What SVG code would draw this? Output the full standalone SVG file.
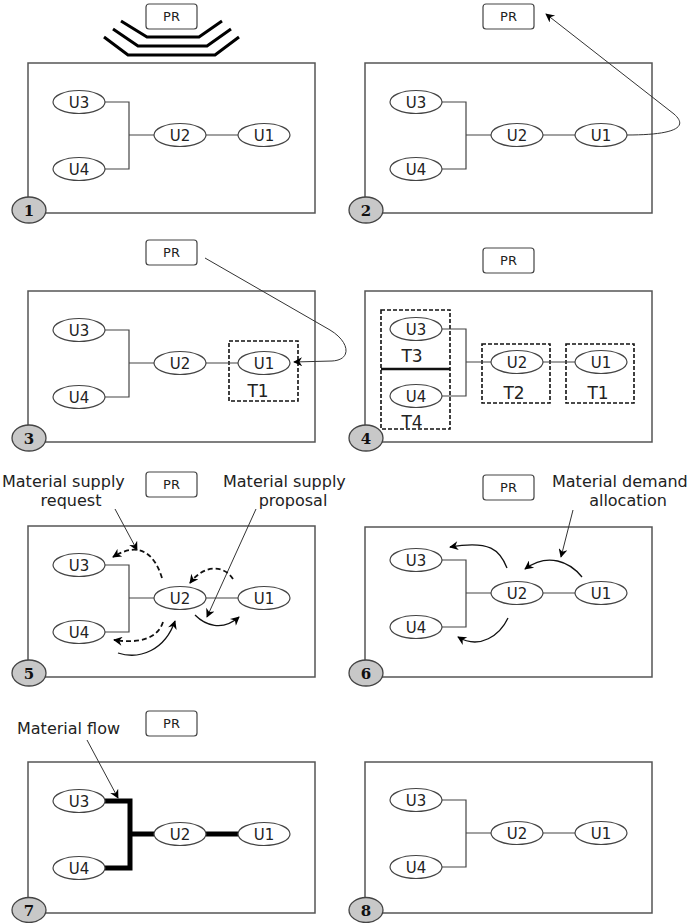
<svg xmlns="http://www.w3.org/2000/svg" width="689" height="923" viewBox="0 0 689 923">
<style>
.frame{fill:none;stroke:#555;stroke-width:1.5}
.pr{fill:#fff;stroke:#444;stroke-width:1.2}
.u{fill:#fff;stroke:#444;stroke-width:1.2}
.lbl{font-family:"DejaVu Sans",Verdana,sans-serif;font-size:15px;fill:#222;text-anchor:middle}
.prt{font-size:13px}
.tl{font-size:17px}
.note{font-family:"DejaVu Sans",Verdana,sans-serif;font-size:16px;fill:#222}
.num{fill:#c8c8c8;stroke:#444;stroke-width:1.3}
.numt{font-family:"DejaVu Serif",serif;font-weight:bold;font-size:15px;fill:#111;text-anchor:middle}
.tree{fill:none;stroke:#444;stroke-width:1.2}
.thick{fill:none;stroke:#000;stroke-width:5}
.tbox{fill:none;stroke:#111;stroke-width:1.6;stroke-dasharray:4 2}
.ptr{fill:none;stroke:#333;stroke-width:1;marker-end:url(#ah)}
.dash{fill:none;stroke:#111;stroke-width:1.8;stroke-dasharray:5 3;marker-end:url(#ah)}
.curve{fill:none;stroke:#111;stroke-width:1.3;marker-end:url(#ah)}
.chev{fill:none;stroke:#000;stroke-width:3}
</style>
<defs>
<marker id="ah" viewBox="0 0 10 10" refX="9" refY="5" markerWidth="11" markerHeight="9" markerUnits="userSpaceOnUse" orient="auto">
<path d="M0,0 L10,5 L0,10 L3,5 z" fill="#000"/>
</marker>
</defs>
<rect width="689" height="923" fill="#fff"/>

<g id="frames">
<rect class="frame" x="28" y="63" width="287" height="150"/>
<rect class="frame" x="365" y="63" width="287" height="150"/>
<rect class="frame" x="28" y="291" width="287" height="151"/>
<rect class="frame" x="365" y="291" width="287" height="151"/>
<rect class="frame" x="28" y="526" width="287" height="151"/>
<rect class="frame" x="365" y="527" width="287" height="150"/>
<rect class="frame" x="28" y="762" width="287" height="151"/>
<rect class="frame" x="365" y="762" width="287" height="151"/>
</g>

<g id="signal">
<path class="chev" d="M121,21 L147,37 L199,37 L222,21"/>
<path class="chev" d="M113,29 L138,46 L207,46 L231,29"/>
<path class="chev" d="M104,37 L128,55 L215,55 L239,37"/>
</g>

<g id="tboxes">
<rect class="tbox" x="229" y="341" width="69" height="60"/>
<text class="lbl tl" x="258" y="397">T1</text>
<rect class="tbox" x="381" y="310" width="69" height="119"/>
<path d="M381,369 H450" stroke="#111" stroke-width="2.5"/>
<text class="lbl tl" x="412" y="362">T3</text>
<text class="lbl tl" x="412" y="428">T4</text>
<rect class="tbox" x="482" y="344" width="68" height="59"/>
<text class="lbl tl" x="514" y="399">T2</text>
<rect class="tbox" x="566" y="344" width="68" height="59"/>
<text class="lbl tl" x="598" y="399">T1</text>
</g>

<g id="connectors">
<path class="tree" d="M105,102 H129 V169 H105 M129,135 H154 M206,135 H238"/>
<path class="tree" d="M442,102 H466 V169 H442 M466,135 H491 M543,135 H575"/>
<path class="tree" d="M105,330 H129 V397 H105 M129,363 H154 M206,363 H238"/>
<path class="tree" d="M442,329 H466 V396 H442 M466,362 H491 M543,362 H575"/>
<path class="tree" d="M105,565 H129 V632 H105 M129,598 H154 M206,598 H238"/>
<path class="tree" d="M442,560 H466 V627 H442 M466,593 H491 M543,593 H575"/>
<path class="thick" d="M105,801 H130 V868 H105 M130,834 H154 M206,834 H238"/>
<path class="tree" d="M442,800 H466 V867 H442 M466,833 H491 M543,833 H575"/>
<path class="ptr" d="M627,135 C672,135 690,128 674,114 L546,14"/>
<path class="ptr" d="M205,258 L330,330 C350,342 352,360 332,361 L294,362"/>
<path class="ptr" d="M115,509 L137,550"/>
<path class="ptr" d="M256,509 L207,617"/>
<path class="dash" d="M162,578 C155,555 140,540 113,557"/>
<path class="dash" d="M233,579 C225,566 205,563 190,583"/>
<path class="curve" d="M195,615 C205,625 222,632 239,617"/>
<path class="dash" d="M163,622 C158,638 140,644 114,640"/>
<path class="curve" d="M118,653 C140,660 165,650 175,621"/>
<path class="ptr" d="M573,510 L561,557"/>
<path class="curve" d="M582,577 C570,562 548,552 525,569"/>
<path class="curve" d="M507,568 C500,550 490,540 450,547"/>
<path class="curve" d="M508,618 C500,635 480,650 458,637"/>
<path class="ptr" d="M87,740 L118,798"/>
</g>

<g id="notes">
<text class="note" x="2" y="487">Material supply</text>
<text class="note" x="71" y="506" text-anchor="middle">request</text>
<text class="note" x="223" y="487">Material supply</text>
<text class="note" x="293" y="506" text-anchor="middle">proposal</text>
<text class="note" x="552" y="487">Material demand</text>
<text class="note" x="628" y="506" text-anchor="middle">allocation</text>
<text class="note" x="17" y="734">Material flow</text>
</g>

<g id="pr1"><rect class="pr" x="146" y="4" width="51" height="25" rx="3"/><text class="lbl prt" x="171.5" y="21">PR</text></g>
<g id="pr2"><rect class="pr" x="483" y="4" width="51" height="25" rx="3"/><text class="lbl prt" x="508.5" y="21">PR</text></g>
<g id="pr3"><rect class="pr" x="146" y="240" width="51" height="25" rx="3"/><text class="lbl prt" x="171.5" y="257">PR</text></g>
<g id="pr4"><rect class="pr" x="483" y="248" width="51" height="25" rx="3"/><text class="lbl prt" x="508.5" y="265">PR</text></g>
<g id="pr5"><rect class="pr" x="146" y="472" width="51" height="25" rx="3"/><text class="lbl prt" x="171.5" y="489">PR</text></g>
<g id="pr6"><rect class="pr" x="483" y="475" width="51" height="25" rx="3"/><text class="lbl prt" x="508.5" y="492">PR</text></g>
<g id="pr7"><rect class="pr" x="146" y="711" width="51" height="25" rx="3"/><text class="lbl prt" x="171.5" y="728">PR</text></g>

<g id="p1-U3"><ellipse class="u" cx="79" cy="102" rx="26" ry="11.5"/><text class="lbl" x="79" y="107.5">U3</text></g>
<g id="p1-U4"><ellipse class="u" cx="79" cy="169" rx="26" ry="11.5"/><text class="lbl" x="79" y="174.5">U4</text></g>
<g id="p1-U2"><ellipse class="u" cx="180" cy="135" rx="26" ry="11.5"/><text class="lbl" x="180" y="140.5">U2</text></g>
<g id="p1-U1"><ellipse class="u" cx="264" cy="135" rx="26" ry="11.5"/><text class="lbl" x="264" y="140.5">U1</text></g>
<g id="p1-num"><ellipse class="num" cx="29" cy="210" rx="17" ry="13"/><text class="numt" x="29" y="215.5">1</text></g>

<g id="p2-U3"><ellipse class="u" cx="416" cy="102" rx="26" ry="11.5"/><text class="lbl" x="416" y="107.5">U3</text></g>
<g id="p2-U4"><ellipse class="u" cx="416" cy="169" rx="26" ry="11.5"/><text class="lbl" x="416" y="174.5">U4</text></g>
<g id="p2-U2"><ellipse class="u" cx="517" cy="135" rx="26" ry="11.5"/><text class="lbl" x="517" y="140.5">U2</text></g>
<g id="p2-U1"><ellipse class="u" cx="601" cy="135" rx="26" ry="11.5"/><text class="lbl" x="601" y="140.5">U1</text></g>
<g id="p2-num"><ellipse class="num" cx="366" cy="210" rx="17" ry="13"/><text class="numt" x="366" y="215.5">2</text></g>

<g id="p3-U3"><ellipse class="u" cx="79" cy="330" rx="26" ry="11.5"/><text class="lbl" x="79" y="335.5">U3</text></g>
<g id="p3-U4"><ellipse class="u" cx="79" cy="397" rx="26" ry="11.5"/><text class="lbl" x="79" y="402.5">U4</text></g>
<g id="p3-U2"><ellipse class="u" cx="180" cy="363" rx="26" ry="11.5"/><text class="lbl" x="180" y="368.5">U2</text></g>
<g id="p3-U1"><ellipse class="u" cx="264" cy="363" rx="26" ry="11.5"/><text class="lbl" x="264" y="368.5">U1</text></g>
<g id="p3-num"><ellipse class="num" cx="29" cy="438" rx="17" ry="13"/><text class="numt" x="29" y="443.5">3</text></g>

<g id="p4-U3"><ellipse class="u" cx="416" cy="329" rx="26" ry="11.5"/><text class="lbl" x="416" y="334.5">U3</text></g>
<g id="p4-U4"><ellipse class="u" cx="416" cy="396" rx="26" ry="11.5"/><text class="lbl" x="416" y="401.5">U4</text></g>
<g id="p4-U2"><ellipse class="u" cx="517" cy="362" rx="26" ry="11.5"/><text class="lbl" x="517" y="367.5">U2</text></g>
<g id="p4-U1"><ellipse class="u" cx="601" cy="362" rx="26" ry="11.5"/><text class="lbl" x="601" y="367.5">U1</text></g>
<g id="p4-num"><ellipse class="num" cx="366" cy="438" rx="17" ry="13"/><text class="numt" x="366" y="443.5">4</text></g>

<g id="p5-U3"><ellipse class="u" cx="79" cy="565" rx="26" ry="11.5"/><text class="lbl" x="79" y="570.5">U3</text></g>
<g id="p5-U4"><ellipse class="u" cx="79" cy="632" rx="26" ry="11.5"/><text class="lbl" x="79" y="637.5">U4</text></g>
<g id="p5-U2"><ellipse class="u" cx="180" cy="598" rx="26" ry="11.5"/><text class="lbl" x="180" y="603.5">U2</text></g>
<g id="p5-U1"><ellipse class="u" cx="264" cy="598" rx="26" ry="11.5"/><text class="lbl" x="264" y="603.5">U1</text></g>
<g id="p5-num"><ellipse class="num" cx="29" cy="673" rx="17" ry="13"/><text class="numt" x="29" y="678.5">5</text></g>

<g id="p6-U3"><ellipse class="u" cx="416" cy="560" rx="26" ry="11.5"/><text class="lbl" x="416" y="565.5">U3</text></g>
<g id="p6-U4"><ellipse class="u" cx="416" cy="627" rx="26" ry="11.5"/><text class="lbl" x="416" y="632.5">U4</text></g>
<g id="p6-U2"><ellipse class="u" cx="517" cy="593" rx="26" ry="11.5"/><text class="lbl" x="517" y="598.5">U2</text></g>
<g id="p6-U1"><ellipse class="u" cx="601" cy="593" rx="26" ry="11.5"/><text class="lbl" x="601" y="598.5">U1</text></g>
<g id="p6-num"><ellipse class="num" cx="366" cy="673" rx="17" ry="13"/><text class="numt" x="366" y="678.5">6</text></g>

<g id="p7-U3"><ellipse class="u" cx="79" cy="801" rx="26" ry="11.5"/><text class="lbl" x="79" y="806.5">U3</text></g>
<g id="p7-U4"><ellipse class="u" cx="79" cy="868" rx="26" ry="11.5"/><text class="lbl" x="79" y="873.5">U4</text></g>
<g id="p7-U2"><ellipse class="u" cx="180" cy="834" rx="26" ry="11.5"/><text class="lbl" x="180" y="839.5">U2</text></g>
<g id="p7-U1"><ellipse class="u" cx="264" cy="834" rx="26" ry="11.5"/><text class="lbl" x="264" y="839.5">U1</text></g>
<g id="p7-num"><ellipse class="num" cx="29" cy="910" rx="17" ry="12.5"/><text class="numt" x="29" y="915.5">7</text></g>

<g id="p8-U3"><ellipse class="u" cx="416" cy="800" rx="26" ry="11.5"/><text class="lbl" x="416" y="805.5">U3</text></g>
<g id="p8-U4"><ellipse class="u" cx="416" cy="867" rx="26" ry="11.5"/><text class="lbl" x="416" y="872.5">U4</text></g>
<g id="p8-U2"><ellipse class="u" cx="517" cy="833" rx="26" ry="11.5"/><text class="lbl" x="517" y="838.5">U2</text></g>
<g id="p8-U1"><ellipse class="u" cx="601" cy="833" rx="26" ry="11.5"/><text class="lbl" x="601" y="838.5">U1</text></g>
<g id="p8-num"><ellipse class="num" cx="366" cy="910" rx="17" ry="12.5"/><text class="numt" x="366" y="915.5">8</text></g>
</svg>
